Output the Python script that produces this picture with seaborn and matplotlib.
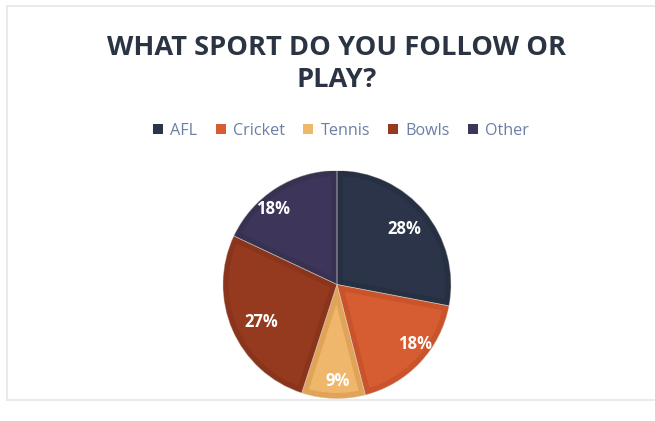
import matplotlib
matplotlib.use("Agg")
import numpy as np
import matplotlib.pyplot as plt
from matplotlib.patches import Patch
import seaborn as sns

# Survey results
sports = ["AFL", "Cricket", "Tennis", "Bowls", "Other"]
shares = [28, 18, 9, 27, 18]
title = "WHAT SPORT DO YOU FOLLOW OR\nPLAY?"

# Slice fill colours and the slightly darker rim shade of each slice
fill_colors = ["#2b3449", "#d65c31", "#efb76b", "#963a1f", "#3d365a"]
rim_colors = ["#263043", "#c9532b", "#e0a358", "#8a341c", "#373152"]

# best-fit placement of the percentage labels (radius fraction, angle nudge in degrees)
label_dist = [0.77, 0.86, 0.85, 0.74, 0.87]
label_turn = [0, 6, 2, 3, 8]

sns.set_theme(style="white")
plt.rcParams["font.family"] = ["Open Sans", "DejaVu Sans"]

fig = plt.figure(figsize=(6.55, 4.21), dpi=100)
fig.patch.set_facecolor("white")

# light chart frame
frame_kw = dict(color="#e4e6ec", linewidth=1.2, transform=fig.transFigure)
fig.add_artist(plt.Line2D([7 / 655, 7 / 655], [1 - 6 / 421, 1 - 400 / 421], **frame_kw))
fig.add_artist(plt.Line2D([7 / 655, 1.0], [1 - 6 / 421, 1 - 6 / 421], **frame_kw))
fig.add_artist(plt.Line2D([7 / 655, 1.0], [1 - 400 / 421, 1 - 400 / 421], **frame_kw))

fig.text(0.5145, 1 - 64 / 421, title, ha="center", va="center",
         fontsize=19.6, fontweight="bold", color="#2b3442", linespacing=1.32)

# pie axes
cx, cy, r = 337 / 655, 1 - 284.5 / 421, 114
ax = fig.add_axes([cx - r / 655, cy - r / 421, 2 * r / 655, 2 * r / 421])

# slices with a darker inset rim (stroke clipped to each slice's own outline)
wedges, _, autotexts = ax.pie(
    shares, colors=fill_colors, startangle=90, counterclock=False, radius=1.0,
    autopct="%1.0f%%", pctdistance=0.8,
    wedgeprops=dict(linewidth=0),
    textprops=dict(color="white", fontsize=12, fontweight="bold"))
for w, c in zip(wedges, rim_colors):
    w.set_edgecolor(c)
    w.set_linewidth(8)
    w.set_clip_on(True)
    w.set_clip_path(w.get_path(), w.get_transform())
# faint separators between slices
ax.pie(shares, colors=["none"] * len(shares), startangle=90, counterclock=False, radius=1.0,
       wedgeprops=dict(edgecolor="#d9cfc8", linewidth=0.5, fill=False, alpha=0.6))

for w, t, d, turn in zip(wedges, autotexts, label_dist, label_turn):
    mid = np.deg2rad((w.theta1 + w.theta2) / 2 + turn)
    t.set_position((d * np.cos(mid), d * np.sin(mid)))
    t.set_zorder(10)

ax.set_xlim(-1.0, 1.0)
ax.set_ylim(-1.0, 1.0)
ax.set_aspect("auto")
ax.axis("off")

handles = [Patch(facecolor=c, edgecolor="none", label=s) for s, c in zip(sports, fill_colors)]
leg = fig.legend(handles=handles, loc="center", bbox_to_anchor=(0.521, 1 - 131 / 421),
                 ncol=5, frameon=False, fontsize=11.6, handlelength=0.6, handleheight=0.6,
                 handletextpad=0.45, columnspacing=1.15)
for t in leg.get_texts():
    t.set_color("#6c7ea4")

fig.savefig("out.png", dpi=100, facecolor="white")
